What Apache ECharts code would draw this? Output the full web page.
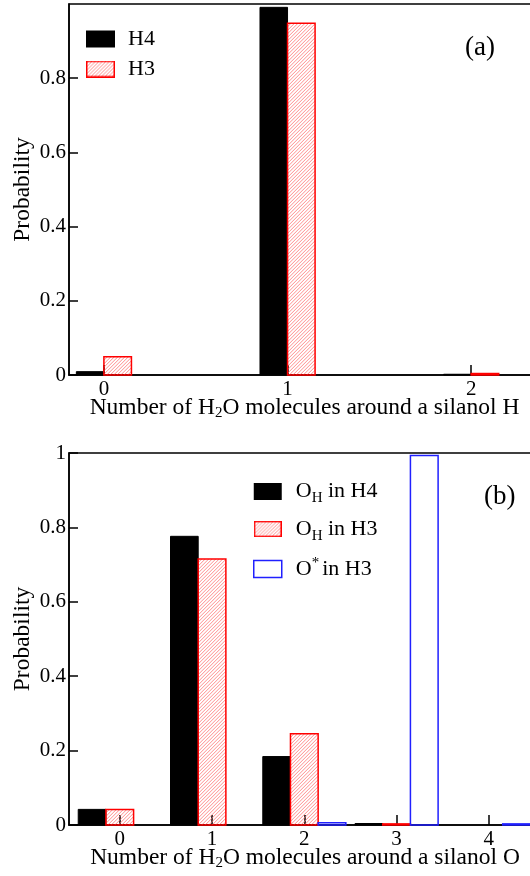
<!DOCTYPE html>
<html><head><meta charset="utf-8">
<script src="https://cdn.jsdelivr.net/npm/echarts@6/dist/echarts.min.js"></script>
<style>html,body{margin:0;padding:0;background:#fff}#c{width:530px;height:876px}</style>
</head><body><div id="c"></div>
<script>
// ---- data ----
const catsA = [0, 1, 2];
const h4A = [0.009, 0.991, 0.002];
const h3A = [0.049, 0.948, 0.004];
const catsB = [0, 1, 2, 3, 4];
const ohH4B = [0.042, 0.776, 0.184, 0.004, 0];
const ohH3B = [0.042, 0.715, 0.245, 0.003, 0];
const oStarH3B = [0, 0, 0.006, 0.993, 0.003];
const namesA = ['H4', 'H3'];
const namesB = ['OH in H4', 'OH in H3', 'O* in H3'];

// ---- styling ----
const FONT = 'Liberation Serif';
const HATCH_COLOR = '#ff7070';
const HATCH_STEP = 3.5;

// legend icon for hatched series (drawn on a canvas, used as image icon)
const HATCH_ICON = (function () {
  const w = 29, h = 17;
  const c = document.createElement('canvas'); c.width = w; c.height = h;
  const g = c.getContext('2d');
  g.fillStyle = '#fff'; g.fillRect(0, 0, w, h);
  g.strokeStyle = HATCH_COLOR; g.lineWidth = 0.8;
  for (let k = -h; k < w; k += HATCH_STEP) {
    g.beginPath(); g.moveTo(k, h); g.lineTo(k + h, 0); g.stroke();
  }
  g.strokeStyle = '#ff0000'; g.lineWidth = 1.5;
  g.strokeRect(0.75, 0.75, w - 1.5, h - 1.5);
  return 'image://' + c.toDataURL();
})();

function hatchedRect(x0, y0, w, h) {
  const children = [];
  for (let k = -h; k < w; k += HATCH_STEP) {
    children.push({ type: 'line', shape: { x1: x0 + k, y1: y0 + h, x2: x0 + k + h, y2: y0 }, style: { stroke: HATCH_COLOR, lineWidth: 0.8 } });
  }
  return {
    type: 'group',
    children: [
      { type: 'group', children: children, clipPath: { type: 'rect', shape: { x: x0, y: y0, width: w, height: h } } },
      { type: 'rect', shape: { x: x0, y: y0, width: w, height: h }, style: { fill: 'none', stroke: '#ff0000', lineWidth: 1.5 } }
    ]
  };
}

function barRender(offset, width, kind) {
  return function (params, api) {
    const x = api.value(0), y = api.value(1);
    if (!y) return null;
    const a = api.coord([x + offset - width / 2, y]);
    const b = api.coord([x + offset + width / 2, 0]);
    const x0 = a[0], y0 = a[1], w = b[0] - a[0], h = b[1] - a[1];
    if (kind === 'red') return hatchedRect(x0, y0, w, h);
    const style = kind === 'black'
      ? { fill: '#000', stroke: '#000', lineWidth: 1 }
      : { fill: 'none', stroke: '#2020ff', lineWidth: 1.5 };
    return { type: 'rect', shape: { x: x0, y: y0, width: w, height: h }, style: style };
  };
}
const pair = (xs, ys) => xs.map((x, i) => [x, ys[i]]);

const txt = { fontFamily: FONT, fontSize: 21, color: '#000' };
const big = { fontFamily: FONT, fontSize: 23.5, color: '#000' };
const richName = {
  sub: { fontFamily: FONT, fontSize: 15, color: '#000', padding: [12, 0, 0, 0] }
};
function yAxis(gi, showMax) {
  return {
    type: 'value', gridIndex: gi, min: 0, max: 1, interval: 0.2,
    axisLine: { show: true, onZero: false, lineStyle: { color: '#000', width: 1.5 } },
    axisTick: { show: true, inside: true, length: 9, lineStyle: { color: '#000', width: 1.5 } },
    axisLabel: Object.assign({ margin: 3, showMaxLabel: showMax }, txt),
    splitLine: { show: false },
    name: 'Probability', nameLocation: 'middle', nameGap: 34, nameMoveOverlap: false, nameTextStyle: big
  };
}
function xAxis(gi, min, max, cats, name, pad) {
  return {
    type: 'value', gridIndex: gi, min: min, max: max,
    axisLine: { show: true, onZero: false, lineStyle: { color: '#000', width: 1.5 } },
    axisTick: { show: true, inside: true, length: 10, customValues: cats, lineStyle: { color: '#000', width: 1.5 } },
    axisLabel: Object.assign({ margin: 4, customValues: cats }, txt),
    splitLine: { show: false },
    name: name, nameLocation: 'middle', nameGap: 19, nameMoveOverlap: false,
    nameTextStyle: Object.assign({ rich: richName, padding: pad }, big)
  };
}
const legendFmt = {
  'H4': '{t|H4}', 'H3': '{t|H3}',
  'OH in H4': '{u|O}{sub|H}{t| in H4}',
  'OH in H3': '{u|O}{sub|H}{t| in H3}',
  'O* in H3': '{u|O}{sup|*}{t|in H3}'
};
const legRichA = {
  t: { fontFamily: FONT, fontSize: 22, color: '#000', lineHeight: 17, padding: [0, 0, 0, 8] }
};
const legRichB = {
  u: { fontFamily: FONT, fontSize: 22, color: '#000', padding: [0, 0, 0, 9] },
  t: { fontFamily: FONT, fontSize: 22, color: '#000' },
  sub: { fontFamily: FONT, fontSize: 15, color: '#000', padding: [14, 0, 0, 0] },
  sup: { fontFamily: FONT, fontSize: 15, color: '#000', padding: [0, 3, 12, 0] }
};

const chart = echarts.init(document.getElementById('c'), null, { renderer: 'canvas' });
chart.setOption({
  animation: false,
  backgroundColor: '#fff',
  grid: [
    { left: 69, top: 4, width: 494, height: 371, show: true, borderColor: '#000', borderWidth: 1.5, containLabel: false, outerBoundsMode: 'none' },
    { left: 69, top: 453, width: 466, height: 372, show: true, borderColor: '#000', borderWidth: 1.5, containLabel: false, outerBoundsMode: 'none' }
  ],
  xAxis: [
    xAxis(0, -0.19, 2.5, catsA, 'Number of H{sub|2}O molecules around a silanol H', [0, 23, 0, 0]),
    xAxis(1, -0.55, 4.5, catsB, 'Number of H{sub|2}O molecules around a silanol O', [0, 0, 0, 6])
  ],
  yAxis: [yAxis(0, false), yAxis(1, true)],
  legend: [
    {
      orient: 'vertical', left: 86, top: 28, padding: 0, itemWidth: 29, itemHeight: 17, itemGap: 8,
      selectedMode: false,
      data: [
        { name: 'H4', icon: 'rect', itemStyle: { color: '#000', borderWidth: 0 } },
        { name: 'H3', icon: HATCH_ICON }
      ],
      formatter: n => legendFmt[n], textStyle: Object.assign({}, txt, { rich: legRichA })
    },
    {
      orient: 'vertical', left: 253, top: 480.5, padding: 0, itemWidth: 28, itemHeight: 17, itemGap: 12,
      selectedMode: false,
      data: [
        { name: 'OH in H4', icon: 'rect', itemStyle: { color: '#000', borderWidth: 0 } },
        { name: 'OH in H3', icon: HATCH_ICON },
        { name: 'O* in H3', icon: 'rect', itemStyle: { color: 'rgba(0,0,0,0)', borderColor: '#2020ff', borderWidth: 1.5 } }
      ],
      formatter: n => legendFmt[n], textStyle: Object.assign({}, txt, { rich: legRichB })
    }
  ],
  graphic: [
    { type: 'text', left: 465, top: 34, style: { text: '(a)', font: '27px "Liberation Serif"', fill: '#000' } },
    { type: 'text', left: 484, top: 483, style: { text: '(b)', font: '27px "Liberation Serif"', fill: '#000' } }
  ],
  series: [
    { type: 'custom', name: namesA[0], xAxisIndex: 0, yAxisIndex: 0, data: pair(catsA, h4A), renderItem: barRender(-0.075, 0.15, 'black'), itemStyle: { color: '#000' } },
    { type: 'custom', name: namesA[1], xAxisIndex: 0, yAxisIndex: 0, data: pair(catsA, h3A), renderItem: barRender(0.075, 0.15, 'red'), itemStyle: { color: '#ff0000' } },
    { type: 'custom', name: namesB[0], xAxisIndex: 1, yAxisIndex: 1, data: pair(catsB, ohH4B), renderItem: barRender(-0.3, 0.3, 'black'), itemStyle: { color: '#000' } },
    { type: 'custom', name: namesB[1], xAxisIndex: 1, yAxisIndex: 1, data: pair(catsB, ohH3B), renderItem: barRender(0, 0.3, 'red'), itemStyle: { color: '#ff0000' } },
    { type: 'custom', name: namesB[2], xAxisIndex: 1, yAxisIndex: 1, data: pair(catsB, oStarH3B), renderItem: barRender(0.3, 0.3, 'blue'), itemStyle: { color: '#2020ff' } }
  ]
});
</script>
</body></html>
